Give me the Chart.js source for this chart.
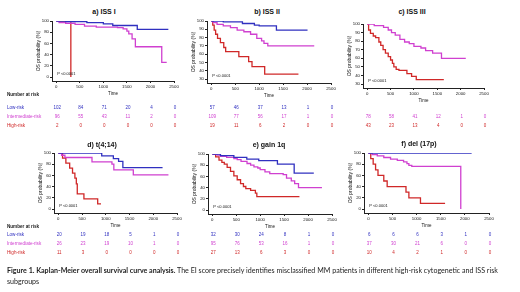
<!DOCTYPE html>
<html>
<head>
<meta charset="utf-8">
<script src="https://cdn.jsdelivr.net/npm/chart.js@4.4.1/dist/chart.umd.min.js"></script>
<style>
body { margin: 0; width: 520px; height: 292px; background: #fff; position: relative; overflow: hidden; font-family: "Liberation Sans", Arial, sans-serif; }
canvas { position: absolute; }
.t { position: absolute; white-space: nowrap; line-height: 1; transform: translateY(-50%); }
.ttl { font-weight: bold; font-size: 7px; color: #111; transform: translate(-50%, -50%); }
.lbl { font-family: "Liberation Sans Narrow", "Liberation Sans", sans-serif; font-size: 4.6px; }
.num { font-size: 4.5px; transform: translate(-50%, -50%); }
.pv { font-size: 4px; color: #111; }
.cap { position: absolute; left: 7px; white-space: nowrap; font-family: Lato, "Liberation Sans", sans-serif; font-size: 6.6px; color: #222; transform-origin: 0 50%; }
</style>
</head>
<body>
<script>
const BLUE = "#3030c0";
const MAG = "#d040d0";
const RED = "#d02828";

const xTicks = [0, 500, 1000, 1500, 2000, 2500];
const yTicksFull = [0, 20, 40, 60, 80, 100];
const yTicksTop = [30, 40, 50, 60, 70, 80, 90, 100];

// a) ISS I
const aLowT = [0, 200, 650, 1000, 1200, 1720, 2380];
const aLowS = [100, 99, 97, 95, 92, 85, 85];
const aIntT = [0, 60, 200, 400, 600, 850, 1300, 1420, 1500, 1540, 1610, 1680, 2240, 2345];
const aIntS = [100, 97, 96, 94, 91, 89, 88, 86, 82, 77, 68, 54, 26, 26];
const aHighT = [0, 310];
const aHighS = [100, 0];
const aRiskLow = [102, 84, 71, 20, 4, 0];
const aRiskInt = [96, 55, 43, 11, 2, 0];
const aRiskHigh = [2, 0, 0, 0, 0, 0];

// b) ISS II
const bLowT = [0, 250, 650, 900, 1000, 1360, 2010];
const bLowS = [100, 99, 97, 95, 94, 89, 89];
const bIntT = [0, 40, 120, 250, 400, 540, 680, 820, 950, 1050, 1100, 1180, 2150];
const bIntS = [100, 98, 96, 94, 92, 89, 87, 84, 79, 76, 73, 70, 70];
const bHighT = [0, 30, 60, 90, 130, 190, 260, 300, 575, 780, 850, 1115, 1820];
const bHighS = [100, 95, 89, 84, 79, 74, 68, 63, 57, 51, 45, 36, 36];
const bRiskLow = [57, 46, 37, 13, 1, 0];
const bRiskInt = [109, 77, 56, 17, 1, 0];
const bRiskHigh = [19, 11, 6, 2, 0, 0];

// c) ISS III
const cIntT = [0, 150, 350, 450, 520, 600, 700, 800, 900, 1000, 1150, 1250, 1400, 1590, 2110];
const cIntS = [100, 98, 96, 93, 90, 87, 82, 79, 77, 74, 72, 69, 66, 60, 60];
const cHighT = [0, 30, 70, 130, 180, 250, 290, 340, 390, 450, 500, 540, 570, 620, 680, 850, 950, 1050, 1640];
const cHighS = [100, 93, 89, 86, 84, 79, 75, 70, 66, 62, 58, 54, 50, 47, 46, 42, 39, 35, 35];
const cRiskInt = [78, 58, 41, 12, 1, 0];
const cRiskHigh = [43, 23, 13, 4, 0, 0];

// d) t(4;14)
const dLowT = [0, 915, 1160, 1270, 1360, 2196];
const dLowS = [100, 95, 90, 85, 74, 74];
const dIntT = [0, 70, 140, 710, 1130, 1170, 1580, 2320];
const dIntS = [100, 96, 92, 84, 80, 70, 61, 61];
const dHighT = [0, 90, 160, 240, 300, 350, 380, 400, 540, 830, 900];
const dHighS = [100, 91, 82, 73, 64, 55, 45, 27, 18, 9, 9];
const dRiskLow = [20, 19, 18, 5, 1, 0];
const dRiskInt = [26, 23, 19, 10, 1, 0];
const dRiskHigh = [11, 3, 0, 0, 0, 0];

// e) gain 1q
const eLowT = [0, 170, 450, 720, 970, 1360, 1710, 2120];
const eLowS = [100, 97, 94, 91, 88, 82, 66, 66];
const eIntT = [0, 100, 170, 300, 450, 520, 600, 725, 800, 870, 950, 1000, 1100, 1200, 1480, 1550, 1650, 1720, 1800, 2290];
const eIntS = [100, 98, 96, 94, 92, 90, 87, 83, 80, 77, 75, 72, 68, 65, 63, 57, 52, 47, 40, 40];
const eHighT = [0, 70, 140, 200, 250, 310, 380, 450, 520, 590, 650, 700, 800, 900, 930, 1820];
const eHighS = [100, 95, 89, 85, 82, 76, 69, 61, 54, 47, 42, 38, 35, 30, 24, 24];
const eRiskLow = [32, 30, 24, 8, 1, 0];
const eRiskInt = [95, 76, 53, 16, 1, 0];
const eRiskHigh = [27, 13, 6, 3, 0, 0];

// f) del (17p)
const fLowT = [0, 2140];
const fLowS = [100, 100];
const fIntT = [0, 80, 185, 320, 460, 600, 730, 800, 840, 900, 1915];
const fIntS = [100, 97, 95, 92, 89, 87, 84, 81, 78, 76, 0];
const fHighT = [0, 50, 100, 150, 200, 320, 390, 780, 840, 1080, 1590];
const fHighS = [100, 90, 80, 70, 60, 50, 40, 30, 20, 10, 10];
const fRiskLow = [6, 6, 6, 3, 1, 0];
const fRiskInt = [37, 30, 21, 6, 0, 0];
const fRiskHigh = [10, 4, 2, 1, 0, 0];

const rowsTop = [108, 117, 126];
const rowsBot = [235, 244, 253];

const panels = [
    { title: "a) ISS I", tx: 104, ty: 11, x0: 56, x1: 174, yT: 21, yB: 77, lo: 0, hi: 100, yTicks: yTicksFull,
      curves: [[aLowT, aLowS, BLUE], [aIntT, aIntS, MAG], [aHighT, aHighS, RED]],
      risk: [[aRiskLow, BLUE, rowsTop[0]], [aRiskInt, MAG, rowsTop[1]], [aRiskHigh, RED, rowsTop[2]]] },
    { title: "b) ISS II", tx: 267, ty: 11, x0: 211, x1: 331, yT: 21, yB: 79, lo: 30, hi: 100, yTicks: yTicksTop,
      curves: [[bLowT, bLowS, BLUE], [bIntT, bIntS, MAG], [bHighT, bHighS, RED]],
      risk: [[bRiskLow, BLUE, rowsTop[0]], [bRiskInt, MAG, rowsTop[1]], [bRiskHigh, RED, rowsTop[2]]] },
    { title: "c) ISS III", tx: 412, ty: 11, x0: 367, x1: 484, yT: 24, yB: 84, lo: 30, hi: 100, yTicks: yTicksTop,
      curves: [[cIntT, cIntS, MAG], [cHighT, cHighS, RED]],
      risk: [[cRiskInt, MAG, rowsTop[1]], [cRiskHigh, RED, rowsTop[2]]] },
    { title: "d) t(4;14)", tx: 102, ty: 144, x0: 58, x1: 177, yT: 153, yB: 209, lo: 0, hi: 100, yTicks: yTicksFull,
      curves: [[dLowT, dLowS, BLUE], [dIntT, dIntS, MAG], [dHighT, dHighS, RED]],
      risk: [[dRiskLow, BLUE, rowsBot[0]], [dRiskInt, MAG, rowsBot[1]], [dRiskHigh, RED, rowsBot[2]]] },
    { title: "e) gain 1q", tx: 269, ty: 144, x0: 212, x1: 332, yT: 154, yB: 210, lo: 0, hi: 100, yTicks: yTicksFull,
      curves: [[eLowT, eLowS, BLUE], [eIntT, eIntS, MAG], [eHighT, eHighS, RED]],
      risk: [[eRiskLow, BLUE, rowsBot[0]], [eRiskInt, MAG, rowsBot[1]], [eRiskHigh, RED, rowsBot[2]]] },
    { title: "f) del (17p)", tx: 419, ty: 143, x0: 368, x1: 489, yT: 153, yB: 209, lo: 0, hi: 100, yTicks: yTicksFull,
      curves: [[fLowT, fLowS, BLUE], [fIntT, fIntS, MAG], [fHighT, fHighS, RED]],
      risk: [[fRiskLow, BLUE, rowsBot[0]], [fRiskInt, MAG, rowsBot[1]], [fRiskHigh, RED, rowsBot[2]]] }
];

function addText(cls, text, x, y, color) {
    let d = document.createElement("div");
    d.className = "t " + cls;
    d.textContent = text;
    d.style.left = x + "px";
    d.style.top = y + "px";
    if (color) d.style.color = color;
    document.body.appendChild(d);
    return d;
}

const Y_W = 16, X_H = 15, PAD_T = 5, PAD_R = 8, XMIN = -90;

panels.forEach(p => {
    let ppx = (p.x1 - p.x0) / 2500;
    let left = p.x0 + XMIN * ppx;
    let ppy = (p.yB - p.yT) / (p.hi - p.lo);
    let bottom = p.yB + 4;
    let ymin = p.lo - 4 / ppy;

    let cv = document.createElement("canvas");
    let cl = Math.round(left - Y_W);
    let ct = p.yT - PAD_T;
    let cw = Math.round(p.x1 - cl) + PAD_R;
    let ch = Math.round(bottom - ct) + X_H;
    cv.width = cw; cv.height = ch;
    cv.style.left = cl + "px"; cv.style.top = ct + "px";
    cv.style.width = cw + "px"; cv.style.height = ch + "px";
    document.body.appendChild(cv);

    const chart = new Chart(cv, {
        type: "line",
        data: {
            datasets: p.curves.map(([t, s, col]) => ({
                data: t.map((v, i) => ({ x: v, y: s[i] })),
                borderColor: col,
                borderWidth: 1.3,
                stepped: true,
                pointRadius: 0,
                fill: false
            }))
        },
        options: {
            responsive: false,
            animation: false,
            devicePixelRatio: 1,
            layout: { padding: { top: PAD_T, right: PAD_R, left: 0, bottom: 0 } },
            plugins: { legend: { display: false }, tooltip: { enabled: false } },
            scales: {
                x: {
                    type: "linear",
                    min: XMIN,
                    max: 2500,
                    afterBuildTicks: s => { s.ticks = xTicks.map(v => ({ value: v })); },
                    afterFit: s => { s.height = X_H; },
                    grid: { drawOnChartArea: false, tickLength: 2, color: "#222" },
                    border: { color: "#222", width: 1 },
                    ticks: { font: { size: 4.3 }, color: "#111", padding: 1, maxRotation: 0, autoSkip: false, callback: v => String(v) },
                    title: { display: true, text: "Time", font: { size: 4.5 }, color: "#111", padding: 0 }
                },
                y: {
                    min: ymin,
                    max: p.hi,
                    afterBuildTicks: s => { s.ticks = p.yTicks.map(v => ({ value: v })); },
                    afterFit: s => { s.width = Y_W; },
                    grid: { drawOnChartArea: false, tickLength: 2, color: "#222" },
                    border: { color: "#222", width: 1 },
                    ticks: { font: { size: 4.3 }, color: "#111", padding: 1, autoSkip: false, callback: v => String(v) },
                    title: { display: true, text: "OS probability (%)", font: { size: 5 }, color: "#111", padding: 0 }
                }
            }
        }
    });

    addText("ttl", p.title, p.tx, p.ty);
    addText("pv", "P <0.0001", cl + chart.scales.x.getPixelForValue(0) + 1, ct + chart.scales.y.getPixelForValue(p.lo) - 3);

    p.risk.forEach(([vals, col, y]) => {
        vals.forEach((v, i) => {
            addText("num", String(v), cl + chart.scales.x.getPixelForValue(xTicks[i]) + 1, y, col);
        });
    });
});

// number at risk labels
[[95, 108, 117, 126], [227, 235, 244, 253]].forEach(r => {
    addText("lbl", "Number at risk", 7, r[0], "#222").style.fontWeight = "bold";
    addText("lbl", "Low-risk", 7, r[1], BLUE);
    addText("lbl", "Intermediate-risk", 7, r[2], MAG);
    addText("lbl", "High-risk", 7, r[3], RED);
});

// caption
let cap1 = document.createElement("div");
cap1.className = "cap";
cap1.style.top = "266px";
cap1.innerHTML = "<b>Figure 1. Kaplan-Meier overall survival curve analysis.</b> The EI score precisely identifies misclassified MM patients in different high-risk cytogenetic and ISS risk";
document.body.appendChild(cap1);
let k = 491 / cap1.offsetWidth;
cap1.style.transform = "scaleX(" + k + ")";

let cap2 = document.createElement("div");
cap2.className = "cap";
cap2.style.top = "277px";
cap2.textContent = "subgroups";
cap2.style.transform = "scaleX(" + k + ")";
document.body.appendChild(cap2);
</script>
</body>
</html>
